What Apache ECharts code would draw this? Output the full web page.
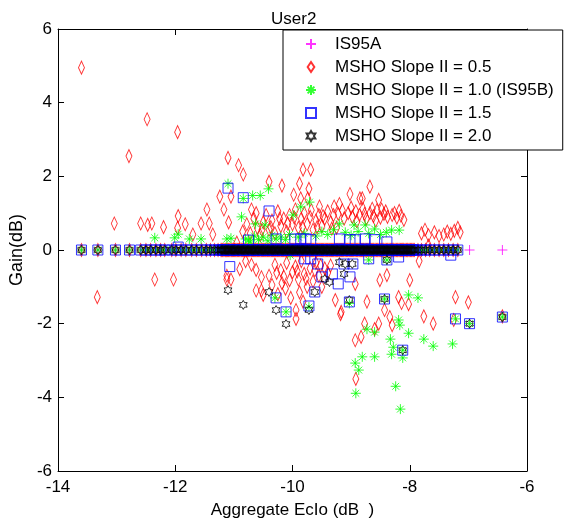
<!DOCTYPE html>
<html><head><meta charset="utf-8">
<script src="https://cdn.jsdelivr.net/npm/echarts@6/dist/echarts.min.js"></script>
<style>html,body{margin:0;padding:0;background:#fff}#c{width:571px;height:524px}</style>
</head><body><div id="c"></div>
<script>
const chartTitle = 'User2';
const xAxisName = 'Aggregate EcIo (dB  )';
const yAxisName = 'Gain(dB)';
const xRange = [-14, -6];
const xStep = 2;
const yRange = [-6, 6];
const yStep = 2;
const seriesNames = ['IS95A', 'MSHO Slope II = 0.5', 'MSHO Slope II = 1.0 (IS95B)', 'MSHO Slope II = 1.5', 'MSHO Slope II = 2.0'];

// Aggregate Ec/Io of samples where every scheme has 0 dB gain (sparse left part and light right tail)
const zeroGainEcIo = [-13.6, -13.32, -13.02, -12.78, -12.59, -12.5, -12.42, -12.33, -12.25, -12.18,
  -12.06, -11.99, -11.9, -11.82, -11.72, -11.64, -11.55, -11.47, -11.4, -11.33, -11.27,
  -7.86, -7.8, -7.73, -7.66, -7.58, -7.5, -7.42, -7.34, -7.26, -7.18];
// the solid black stretch of the 0 dB band
const zeroGainDenseEcIo = [
  -11.22, -11.205, -11.19, -11.17, -11.15, -11.135, -11.12, -11.105, -11.09, -11.07, -11.05, -11.035,
  -11.02, -11.005, -10.99, -10.97, -10.95, -10.935, -10.92, -10.9, -10.88, -10.865, -10.85, -10.835,
  -10.82, -10.8, -10.78, -10.765, -10.75, -10.73, -10.71, -10.695, -10.68, -10.665, -10.65, -10.63,
  -10.61, -10.595, -10.58, -10.56, -10.54, -10.525, -10.51, -10.495, -10.48, -10.46, -10.44, -10.425,
  -10.41, -10.39, -10.37, -10.355, -10.34, -10.325, -10.31, -10.29, -10.27, -10.255, -10.24, -10.22,
  -10.2, -10.185, -10.17, -10.155, -10.14, -10.12, -10.1, -10.085, -10.07, -10.05, -10.03, -10.015,
  -10.0, -9.985, -9.97, -9.95, -9.93, -9.915, -9.9, -9.88, -9.86, -9.845, -9.83, -9.815, -9.8, -9.78,
  -9.76, -9.745, -9.73, -9.71, -9.69, -9.675, -9.66, -9.645, -9.63, -9.61, -9.59, -9.575, -9.56, -9.54,
  -9.52, -9.505, -9.49, -9.475, -9.46, -9.44, -9.42, -9.405, -9.39, -9.37, -9.35, -9.335, -9.32, -9.305,
  -9.29, -9.27, -9.25, -9.235, -9.22, -9.2, -9.18, -9.165, -9.15, -9.135, -9.12, -9.1, -9.08, -9.065,
  -9.05, -9.03, -9.01, -8.995, -8.98, -8.965, -8.95, -8.93, -8.91, -8.895, -8.88, -8.86, -8.84, -8.825,
  -8.81, -8.795, -8.78, -8.76, -8.74, -8.725, -8.71, -8.69, -8.67, -8.655, -8.64, -8.625, -8.61, -8.59,
  -8.57, -8.555, -8.54, -8.52, -8.5, -8.485, -8.47, -8.455, -8.44, -8.42, -8.4, -8.385, -8.37, -8.35,
  -8.33, -8.315, -8.3, -8.285, -8.27, -8.25, -8.23, -8.215, -8.2, -8.18, -8.16, -8.145, -8.13, -8.115,
  -8.1, -8.08, -8.06, -8.045, -8.03, -8.01, -7.99, -7.975, -7.96, -7.94, -7.92];
// IS95A-only samples (other schemes non-zero there)
const is95aExtraEcIo = [-6.98, -6.42];

// [Aggregate Ec/Io, Gain] of non-zero-gain samples
const slope05Points = [
  [-13.6, 4.95], [-12.48, 3.55], [-11.96, 3.2], [-12.79, 2.55], [-11.1, 2.5], [-10.92, 2.3], [-10.84, 2.05],
  [-11.24, 1.45], [-11.05, 1.45], [-11.46, 1.1], [-11.17, 1.1], [-11.95, 0.92], [-11.83, 0.7], [-13.04, 0.72],
  [-12.59, 0.72], [-12.47, 0.68], [-12.4, 0.72], [-12.2, 0.62], [-11.96, 0.6], [-11.56, 0.72], [-11.42, 0.72],
  [-11.36, 0.42], [-11.7, 0.42], [-11.09, 0.75], [-12.35, -0.8], [-12.03, -0.8], [-13.33, -1.28], [-11.12, -0.8],
  [-11.05, -0.8], [-10.9, -0.52], [-10.62, -0.54], [-10.53, -0.74], [-10.53, -1.1], [-11.12, -0.7],
  [-10.7, 1.1], [-10.4, 1.85], [-10.18, 1.75], [-9.82, 2.18], [-9.69, 2.18], [-9.88, 1.8], [-9.72, 1.66],
  [-9.98, 1.5], [-9.86, 1.4], [-9.74, 1.4], [-9.54, 1.18], [-9.29, 1.18], [-9.2, 1.25], [-8.68, 1.72],
  [-8.81, 1.4], [-8.53, 1.36], [-9.02, 1.52], [-8.85, 1.4], [-8.48, 1.1],
  [-9.05, 1.0], [-8.98, 0.9], [-8.92, 1.05], [-8.86, 0.95], [-8.8, 1.12], [-8.74, 0.85], [-8.68, 1.0],
  [-8.62, 0.92], [-8.56, 1.08], [-8.5, 0.88], [-8.44, 0.98], [-8.38, 0.9], [-8.3, 0.95], [-8.22, 0.88],
  [-8.15, 0.93], [-8.1, 0.82], [-9.0, 1.15], [-8.9, 0.78], [-8.77, 0.98], [-8.64, 1.12], [-8.58, 0.8],
  [-8.41, 1.05], [-8.26, 1.0], [-8.18, 1.06],
  [-7.8, 0.45], [-7.74, 0.55], [-7.68, 0.4], [-7.58, 0.48], [-7.5, 0.38], [-7.42, 0.42], [-7.36, 0.5],
  [-7.3, 0.44], [-7.24, 0.52], [-7.18, 0.6], [-7.14, 0.48], [-7.68, 0.12],
  [-7.84, -0.3], [-8.51, -0.82], [-8.39, -0.68], [-8.0, -0.82], [-9.27, -1.36], [-9.18, -1.74], [-8.73, -1.4],
  [-8.19, -1.28], [-8.14, -1.44], [-8.02, -1.47], [-8.43, -1.63], [-8.34, -1.82], [-8.3, -2.04], [-8.6, -2.15],
  [-8.93, -2.45], [-8.83, -2.36], [-8.92, -3.5], [-7.76, -1.8], [-7.6, -2.0], [-7.22, -1.28], [-7.0, -1.42],
  [-7.25, -1.9], [-6.42, -1.8],
  [-10.62, -1.1], [-10.5, -1.22], [-10.18, -0.9], [-10.03, -1.3], [-9.94, -1.63], [-9.94, -1.87], [-9.17, -1.68],
  [-8.77, -2.0], [-8.53, -2.0], [-8.93, -0.92],
  [-10.3, -0.4], [-10.2, -0.55], [-10.1, -0.35], [-10.0, -0.6], [-9.95, -0.45], [-9.9, -0.8], [-9.85, -0.3],
  [-9.8, -0.65], [-9.75, -1.0], [-9.7, -0.5], [-9.65, -0.85], [-9.6, -0.35], [-9.55, -0.7], [-9.5, -1.0],
  [-9.45, -0.5], [-10.4, -0.7], [-10.35, -0.95], [-10.25, -1.2], [-10.12, -1.05], [-9.88, -1.15], [-9.82, -1.4],
  [-10.8, -0.3], [-10.7, -0.4], [-10.27, -0.62], [-10.05, -0.82], [-9.92, -0.58], [-9.77, -0.78], [-9.62, -0.55],
  [-9.52, -0.42], [-10.15, -0.72], [-9.4, -0.62], [-9.35, -0.42],
  [-10.85, 0.5], [-10.78, 0.7], [-10.72, 0.45], [-10.66, 0.85], [-10.6, 0.6], [-10.55, 0.4], [-10.5, 0.75],
  [-10.45, 0.95], [-10.4, 0.55], [-10.35, 0.8], [-10.3, 0.45], [-10.25, 1.05], [-10.2, 0.65], [-10.15, 0.85],
  [-10.1, 0.5], [-10.05, 0.95], [-10.0, 0.7], [-9.95, 1.1], [-9.9, 0.6], [-9.85, 0.85], [-9.8, 1.0],
  [-9.75, 0.7], [-9.7, 0.9], [-9.65, 0.55], [-9.6, 0.8], [-9.55, 0.95], [-9.5, 0.65], [-9.45, 0.85],
  [-9.4, 1.05], [-9.35, 0.75], [-9.3, 0.95], [-9.25, 0.6], [-10.95, 0.2], [-10.62, 1.0], [-10.52, 0.55],
  [-10.37, 0.62], [-10.22, 0.85], [-10.08, 0.72], [-9.97, 0.88], [-9.83, 0.62], [-9.68, 1.08], [-9.58, 0.62],
  [-9.48, 0.92], [-9.33, 0.58], [-9.22, 0.98], [-9.12, 0.85], [-9.15, 1.08]
];
const slope10Points = [
  [-11.1, 1.8], [-10.84, 1.4], [-10.68, 1.48], [-10.55, 1.48], [-10.41, 1.66], [-12.35, 0.33], [-12.01, 0.33],
  [-11.95, 0.43], [-11.76, 0.3], [-11.56, 0.3], [-11.12, 0.3], [-11.05, 0.32], [-10.87, 0.9], [-10.63, 0.71],
  [-10.47, 0.68], [-9.99, 0.95], [-9.86, 1.17], [-9.71, 1.3], [-9.2, 0.71], [-8.95, 0.68], [-8.76, 0.68],
  [-8.6, 0.57], [-8.31, 0.54], [-8.18, 0.54], [-10.75, 0.27],
  [-10.8, 0.3], [-10.72, 0.22], [-10.65, 0.38], [-10.58, 0.28], [-10.5, 0.35], [-10.42, 0.25], [-10.35, 0.4],
  [-10.28, 0.3], [-10.2, 0.35], [-10.12, 0.28], [-10.05, 0.42], [-9.9, 0.35], [-9.8, 0.45], [-9.6, 0.38],
  [-9.5, 0.5], [-9.4, 0.42], [-9.3, 0.55], [-9.1, 0.48], [-9.0, 0.4], [-8.88, 0.5], [-8.7, 0.45], [-8.5, 0.42],
  [-8.4, 0.48],
  [-10.04, -0.14], [-8.7, -0.27], [-8.39, -0.27], [-10.3, -1.3], [-10.11, -1.68], [-9.72, -1.55], [-9.03, -1.45],
  [-8.43, -1.33], [-8.02, -1.22], [-7.86, -1.3], [-8.19, -1.9], [-8.17, -2.04], [-8.73, -2.15], [-8.6, -2.23],
  [-8.02, -2.26], [-8.33, -2.42], [-7.76, -2.42], [-7.6, -2.61], [-7.27, -2.55], [-8.28, -2.64], [-8.31, -2.83],
  [-8.12, -2.93], [-8.81, -2.9], [-8.6, -2.9], [-8.93, -3.07], [-8.87, -3.26], [-8.24, -3.7], [-8.92, -3.89],
  [-8.16, -4.32], [-8.12, -2.72], [-7.22, -1.87], [-6.98, -2.0], [-6.42, -1.82]
];
const slope15Points = [
  [-11.1, 1.68], [-10.84, 1.42], [-10.4, 1.06], [-10.75, 0.27], [-10.28, 0.3], [-9.96, 0.3], [-9.86, 0.3],
  [-9.77, 0.3], [-9.69, 0.28], [-9.2, 0.3], [-9.02, 0.28], [-8.93, 0.28], [-8.76, 0.3], [-8.6, 0.28],
  [-8.39, 0.22], [-11.07, -0.45], [-11.95, 0.08], [-9.79, -0.24], [-9.69, -0.24], [-9.57, -0.38], [-9.5, -0.73],
  [-9.32, -0.65], [-9.22, -0.92], [-9.62, -1.14], [-9.02, -0.73], [-10.28, -1.3], [-10.11, -1.68], [-9.72, -1.52],
  [-9.03, -1.41], [-8.7, -0.24], [-8.39, -0.27], [-9.12, -0.38], [-8.97, -0.38], [-8.19, -0.19], [-7.3, -0.14],
  [-8.43, -1.33], [-8.12, -2.72], [-7.22, -1.87], [-6.98, -2.0], [-6.42, -1.82]
];
const slope20Points = [
  [-11.1, -1.09], [-10.84, -1.49], [-10.4, -1.14], [-10.28, -1.63], [-10.11, -2.01], [-9.72, -1.63],
  [-9.62, -1.14], [-9.2, -0.33], [-9.1, -0.38], [-8.98, -0.38], [-9.12, -0.65], [-9.45, -0.79], [-9.37, -0.87],
  [-9.03, -1.36], [-8.39, -0.27], [-8.43, -1.33], [-8.12, -2.72], [-6.98, -2.0], [-6.42, -1.82]
];

const FONT = '"Liberation Sans", Arial, sans-serif';
const plusPath = 'path://M5,0L5,10M0,5L10,5';
const starPath = 'path://M5,0L5,10M0,5L10,5M1.6,1.6L8.4,8.4M8.4,1.6L1.6,8.4';
const diamondPath = 'path://M4,0L8,6L4,12L0,6Z';
const hexPath = 'path://M10,0L12.89,5L18.66,5L15.77,10L18.66,15L12.89,15L10,20L7.11,15L1.34,15L4.23,10L1.34,5L7.11,5Z';

const zeros = zeroGainEcIo.concat(zeroGainDenseEcIo).map(x => [x, 0]);
const mk = (name, data, symbol, size, color) => ({
  name, type: 'scatter', data, symbol, symbolSize: size, symbolKeepAspect: true,
  itemStyle: { color: 'transparent', borderColor: color, borderWidth: 1 },
  emphasis: { disabled: true }, silent: true, animation: false, large: false,
  xAxisIndex: 0, yAxisIndex: 0
});

const axisCommon = {
  type: 'value', splitLine: { show: false },
  axisLine: { show: true, onZero: false, lineStyle: { color: '#000', width: 1 } },
  axisTick: { show: true, inside: true, length: 6, lineStyle: { color: '#000' } }
};

const chart = echarts.init(document.getElementById('c'), null, { renderer: 'canvas' });
chart.setOption({
  animation: false,
  backgroundColor: '#fff',
  title: { text: chartTitle, left: 266, top: 6, textStyle: { fontSize: 17, fontWeight: 'normal', color: '#000', fontFamily: FONT } },
  grid: { left: 52, right: 44, top: 29, bottom: 53 },
  legend: {
    orient: 'vertical', left: 283, top: 30, padding: [4, 9, 4, 22],
    itemWidth: 10, itemHeight: 10, itemGap: 3, selectedMode: false,
    backgroundColor: '#fff', borderColor: '#000', borderWidth: 1, borderRadius: 0,
    textStyle: { color: '#000', fontSize: 17, fontFamily: FONT, lineHeight: 20, padding: [0, 0, 0, 14] },
    data: seriesNames
  },
  xAxis: [
    Object.assign({}, axisCommon, { min: xRange[0], max: xRange[1], interval: xStep, position: 'bottom',
      axisLabel: { color: '#000', fontSize: 17, fontFamily: FONT, margin: 8 },
      name: xAxisName, nameLocation: 'middle', nameGap: 31,
      nameTextStyle: { color: '#000', fontSize: 17, fontFamily: FONT } }),
    Object.assign({}, axisCommon, { min: xRange[0], max: xRange[1], interval: xStep, position: 'top', axisLabel: { show: false } })
  ],
  yAxis: [
    Object.assign({}, axisCommon, { min: yRange[0], max: yRange[1], interval: yStep, position: 'left',
      axisLabel: { color: '#000', fontSize: 17, fontFamily: FONT, margin: 6 },
      name: yAxisName, nameLocation: 'middle', nameGap: 28,
      nameTextStyle: { color: '#000', fontSize: 18, fontFamily: FONT } }),
    Object.assign({}, axisCommon, { min: yRange[0], max: yRange[1], interval: yStep, position: 'right', axisLabel: { show: false } })
  ],
  series: [
    mk(seriesNames[0], zeros.concat(is95aExtraEcIo.map(x => [x, 0])), plusPath, 10, '#ff00ff'),
    mk(seriesNames[1], zeros.concat(slope05Points), diamondPath, [9, 13], '#ff0000'),
    mk(seriesNames[2], zeros.concat(slope10Points), starPath, 10, '#00ff00'),
    mk(seriesNames[3], zeros.concat(slope15Points), 'rect', 10, '#0000ff'),
    mk(seriesNames[4], zeros.concat(slope20Points), hexPath, 9, '#000000')
  ]
});
</script></body></html>
